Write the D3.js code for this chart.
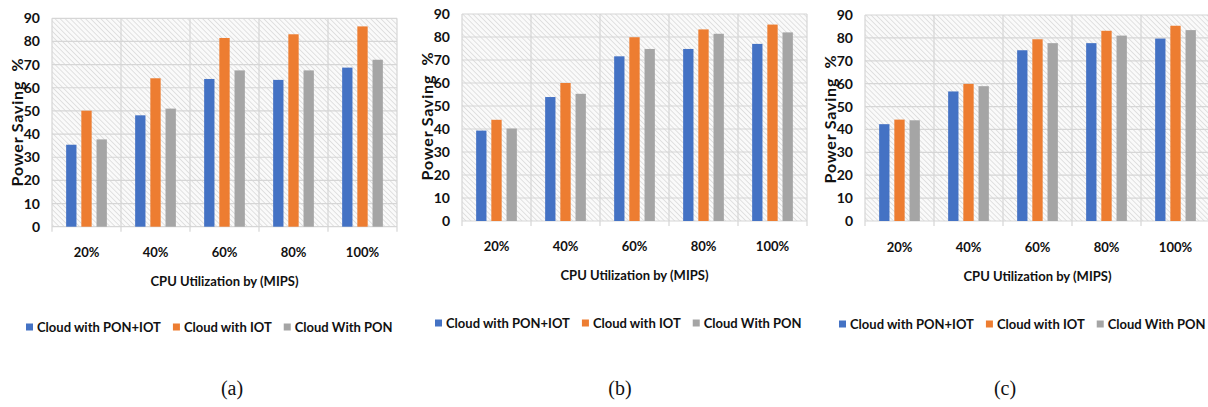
<!DOCTYPE html>
<html>
<head>
<meta charset="utf-8">
<script src="https://cdn.jsdelivr.net/npm/d3@7"></script>
<style>
html, body { margin: 0; padding: 0; background: #fff; overflow: hidden; }
text { font-family: Lato, "Open Sans", sans-serif; font-weight: bold; fill: #111; }
.caption { font-family: "Liberation Serif", "DejaVu Serif", serif; font-weight: normal; }
</style>
</head>
<body>
<svg id="fig" width="1208" height="407"></svg>
<script>
// ---- data ----
const categories = ["20%", "40%", "60%", "80%", "100%"];
const seriesNames = ["Cloud with PON+IOT", "Cloud with IOT", "Cloud With PON"];
const seriesColors = ["#4472C4", "#ED7D31", "#A5A5A5"];
const yTicks = [0, 10, 20, 30, 40, 50, 60, 70, 80, 90];

// (a)
const aPonIot = [35.4, 48.1, 63.8, 63.4, 68.7];
const aIot    = [50.1, 64.1, 81.5, 83.1, 86.5];
const aPon    = [37.7, 51.0, 67.5, 67.5, 72.1];
// (b)
const bPonIot = [39.3, 53.9, 71.6, 74.8, 77.0];
const bIot    = [44.0, 60.0, 79.9, 83.3, 85.4];
const bPon    = [40.2, 55.3, 74.8, 81.4, 82.0];
// (c)
const cPonIot = [42.3, 56.6, 74.6, 77.7, 79.7];
const cIot    = [44.3, 59.9, 79.4, 83.1, 85.3];
const cPon    = [44.0, 58.9, 77.7, 81.0, 83.4];

// ---- layout of each panel ----
const panels = [
    { caption: "(a)", series: [aPonIot, aIot, aPon], left: 52, top: 18.3, bottom: 226.7,
      yTitleX: 17, yTitleY: 122, tickY: 252, titleY: 281, legendX: 26, legendY: 327, capX: 232 },
    { caption: "(b)", series: [bPonIot, bIot, bPon], left: 462, top: 14, bottom: 221,
      yTitleX: 427, yTitleY: 116, tickY: 246, titleY: 275, legendX: 435, legendY: 323, capX: 620 },
    { caption: "(c)", series: [cPonIot, cIot, cPon], left: 865, top: 15, bottom: 221,
      yTitleX: 830, yTitleY: 119, tickY: 247, titleY: 276, legendX: 839, legendY: 324, capX: 1005 }
];
const plotW = 345, captionY = 388;

const svg = d3.select("#fig");

// hatched plot background
const pat = svg.append("defs").append("pattern")
    .attr("id", "hatch").attr("patternUnits", "userSpaceOnUse")
    .attr("width", 3.6).attr("height", 3.6)
    .attr("patternTransform", "rotate(-45)");
pat.append("rect").attr("width", 3.6).attr("height", 3.6).attr("fill", "#fafafa");
pat.append("line").attr("x1", 0).attr("y1", 0).attr("x2", 0).attr("y2", 3.6)
    .attr("stroke", "#cdcdcd").attr("stroke-width", 1.1);

function drawPanel(p) {
    const g = svg.append("g");
    const x0 = d3.scaleBand().domain(categories).range([p.left, p.left + plotW]);
    const bw = x0.bandwidth();
    const x1 = d3.scaleBand().domain(seriesNames).range([bw * 0.205, bw * 0.795]).paddingInner(0.32);
    const y = d3.scaleLinear().domain([0, 90]).range([p.bottom, p.top]);

    g.append("rect")
        .attr("x", p.left).attr("y", y(90))
        .attr("width", plotW).attr("height", y(0) - y(90))
        .attr("fill", "url(#hatch)");

    // grid
    g.selectAll(".hgrid").data(yTicks).join("line")
        .attr("x1", p.left).attr("x2", p.left + plotW)
        .attr("y1", d => y(d)).attr("y2", d => y(d))
        .attr("stroke", "#d6d6d6").attr("stroke-width", 1.2);
    const bounds = categories.map(c => x0(c)).concat([p.left + plotW]);
    g.selectAll(".vgrid").data(bounds).join("line")
        .attr("x1", d => d).attr("x2", d => d)
        .attr("y1", y(90)).attr("y2", y(0) + 5)
        .attr("stroke", "#d6d6d6").attr("stroke-width", 1.2);

    // bars
    seriesNames.forEach((s, si) => {
        g.append("g").attr("fill", seriesColors[si])
            .selectAll("rect").data(p.series[si]).join("rect")
            .attr("x", (d, i) => x0(categories[i]) + x1(s))
            .attr("y", d => y(d))
            .attr("width", x1.bandwidth())
            .attr("height", d => y(0) - y(d));
    });

    // y tick labels
    g.selectAll(".ytick").data(yTicks).join("text")
        .attr("x", p.left - 12).attr("y", d => y(d)).attr("dy", "0.36em")
        .attr("text-anchor", "end").style("font-size", "14px")
        .text(d => d);

    // y title
    g.append("text")
        .attr("transform", `translate(${p.yTitleX},${p.yTitleY}) rotate(-90)`)
        .attr("text-anchor", "middle").attr("dy", "0.36em")
        .style("font-size", "16px").style("letter-spacing", "0.8px").style("white-space", "pre")
        .text("Power Saving  %");

    // x tick labels
    g.selectAll(".xtick").data(categories).join("text")
        .attr("x", d => x0(d) + bw / 2).attr("y", p.tickY).attr("dy", "0.36em")
        .attr("text-anchor", "middle").style("font-size", "13px")
        .text(d => d);

    // x title
    g.append("text")
        .attr("x", p.left + plotW / 2).attr("y", p.titleY).attr("dy", "0.36em")
        .attr("text-anchor", "middle").style("font-size", "13px")
        .text("CPU Utilization by (MIPS)");

    // legend
    let lx = p.legendX;
    seriesNames.forEach((s, si) => {
        g.append("rect").attr("x", lx).attr("y", p.legendY - 3.5)
            .attr("width", 7).attr("height", 7).attr("fill", seriesColors[si]);
        const t = g.append("text").attr("x", lx + 11).attr("y", p.legendY).attr("dy", "0.36em")
            .style("font-size", "13px").text(s);
        lx += 11 + t.node().getComputedTextLength() + 12;
    });

    // caption
    g.append("text").attr("class", "caption")
        .attr("x", p.capX).attr("y", captionY).attr("dy", "0.36em")
        .attr("text-anchor", "middle").style("font-size", "20px")
        .text(p.caption);
}

panels.forEach(drawPanel);
</script>
</body>
</html>
